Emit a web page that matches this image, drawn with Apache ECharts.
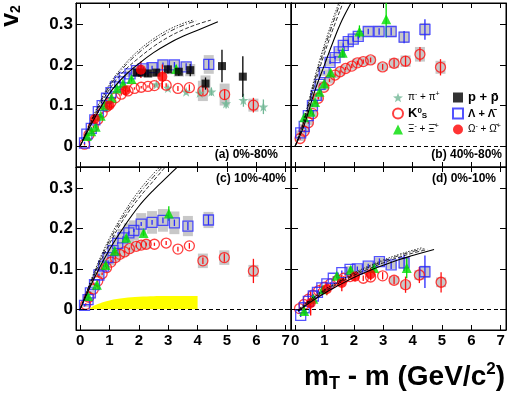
<!DOCTYPE html>
<html><head><meta charset="utf-8">
<script src="https://cdn.jsdelivr.net/npm/echarts@6/dist/echarts.min.js"></script>
<style>html,body{margin:0;padding:0;background:#fff}#c{width:511px;height:394px}</style>
</head><body><div id="c"></div>
<script>
// ---------- tick labels ----------
const xTicks = [0, 1, 2, 3, 4, 5, 6, 7];
const yTicks = [0, 0.1, 0.2, 0.3];
const panelLabels = ['(a) 0%-80%', '(b) 40%-80%', '(c) 10%-40%', '(d) 0%-10%'];

// ---------- data: [x, v2, statErr, sysErr] ----------
// panel (a) 0%-80%
const aPion = [[2.6,0.152,0.004,0],[2.99,0.143,0.005,0],[3.61,0.134,0.006,0],[4.07,0.131,0.008,0],[4.47,0.134,0.01,0],[4.97,0.105,0.012,0],[5.56,0.113,0.016,0],[6.24,0.097,0.018,0]];
const aK0s = [[0.15,0.005,0.003,0],[0.3,0.028,0.003,0],[0.45,0.048,0.003,0],[0.6,0.066,0.003,0],[0.75,0.082,0.003,0],[0.9,0.097,0.003,0],[1.05,0.108,0.003,0],[1.2,0.119,0.003,0],[1.4,0.128,0.003,0],[1.63,0.136,0.003,0],[1.85,0.142,0.003,0],[2.08,0.145,0.003,0],[2.31,0.147,0.003,0],[2.53,0.149,0.004,0],[2.93,0.15,0.005,0],[3.33,0.142,0.006,0],[3.72,0.144,0.008,0],[4.18,0.136,0.01,0.025],[4.92,0.127,0.013,0.027],[5.9,0.101,0.018,0.016]];
const aProton = [[1.93,0.181,0.008,0.01],[2.11,0.181,0.008,0.01],[2.31,0.179,0.008,0.01],[2.59,0.181,0.008,0.01],[2.99,0.189,0.01,0.012],[3.36,0.183,0.01,0.012],[3.75,0.187,0.015,0.015],[4.27,0.154,0.015,0.02],[4.83,0.197,0.04,0],[5.54,0.171,0.05,0]];
const aLambda = [[0.15,0.008,0.003,0],[0.23,0.03,0.003,0],[0.38,0.044,0.003,0],[0.5,0.065,0.003,0],[0.62,0.085,0.003,0],[0.75,0.1,0.003,0],[0.9,0.118,0.003,0],[1.05,0.132,0.003,0],[1.2,0.146,0.003,0],[1.35,0.158,0.003,0],[1.5,0.168,0.004,0],[1.7,0.178,0.004,0.008],[1.92,0.186,0.004,0.01],[2.15,0.19,0.005,0.01],[2.45,0.193,0.005,0.012],[2.82,0.2,0.006,0.012],[3.21,0.2,0.007,0.012],[3.61,0.195,0.009,0.012],[4.38,0.201,0.012,0.023]];
const aXi = [[0.23,0.025,0.004,0],[0.38,0.037,0.004,0],[0.53,0.048,0.004,0],[0.7,0.075,0.004,0],[0.84,0.1,0.004,0],[1.07,0.119,0.004,0],[1.26,0.142,0.005,0],[1.46,0.154,0.005,0],[1.75,0.165,0.006,0],[3.27,0.19,0.01,0]];
const aOmega = [[0.5,0.067,0.008,0],[1.0,0.1,0.008,0],[1.55,0.137,0.01,0],[2.07,0.188,0.02,0],[2.8,0.171,0.03,0]];
const aHydroSolid = [[0,0],[0.5,0.07],[1,0.13],[1.5,0.172],[2,0.203],[2.5,0.23],[3,0.252],[3.5,0.27],[4,0.285],[4.69,0.306]];
const aHydroDash = [[0,0],[0.5,0.076],[1,0.14],[1.5,0.185],[2,0.217],[2.5,0.245],[3,0.268],[3.5,0.286],[4,0.3],[4.45,0.31]];
const aHydroDashDot = [[0,0],[0.5,0.08],[1,0.147],[1.5,0.195],[2,0.23],[2.5,0.258],[3,0.28],[3.5,0.297],[3.95,0.308]];
const aHydroDot = [[0,0],[0.5,0.083],[1,0.152],[1.5,0.2],[2,0.236],[2.5,0.264],[3,0.286],[3.5,0.302],[3.85,0.31]];

// panel (b) 40%-80%
const bK0s = [[0.17,0.019,0.003,0.006],[0.31,0.037,0.003,0.006],[0.45,0.058,0.003,0.006],[0.6,0.08,0.003,0.007],[0.79,0.118,0.003,0.007],[0.98,0.145,0.003,0.008],[1.17,0.162,0.004,0.008],[1.36,0.175,0.004,0.008],[1.53,0.183,0.004,0.009],[1.72,0.191,0.004,0.009],[1.93,0.197,0.005,0.009],[2.12,0.205,0.005,0.01],[2.32,0.208,0.005,0.01],[2.57,0.212,0.006,0.01],[2.98,0.195,0.007,0.01],[3.37,0.204,0.01,0.012],[3.76,0.209,0.013,0.014],[4.25,0.226,0.018,0.018],[4.95,0.194,0.02,0.016]];
const bLambda = [[0.19,0.033,0.003,0.006],[0.31,0.049,0.003,0.006],[0.45,0.075,0.003,0.007],[0.59,0.1,0.003,0.007],[0.72,0.125,0.003,0.008],[0.85,0.152,0.003,0.008],[0.99,0.181,0.004,0.008],[1.19,0.206,0.004,0.009],[1.36,0.218,0.004,0.009],[1.5,0.232,0.004,0.009],[1.64,0.248,0.005,0.01],[1.81,0.257,0.005,0.01],[1.98,0.263,0.005,0.01],[2.15,0.27,0.006,0.01],[2.49,0.282,0.007,0.012],[2.86,0.282,0.008,0.014],[3.27,0.282,0.01,0.014],[3.71,0.268,0.015,0.014],[4.42,0.287,0.025,0.016]];
const bXi = [[0.31,0.071,0.005,0],[0.53,0.085,0.005,0],[0.68,0.109,0.005,0],[0.83,0.134,0.005,0],[0.99,0.154,0.006,0],[1.21,0.181,0.007,0],[1.62,0.23,0.01,0],[2.19,0.282,0.015,0],[3.1,0.312,0.045,0]];
const bHydroSolid = [[0,0],[0.3,0.05],[0.68,0.138],[1,0.2],[1.3,0.258],[1.6,0.31],[1.95,0.358]];
const bHydroDash = [[0,0],[0.3,0.058],[0.68,0.155],[1,0.228],[1.3,0.29],[1.66,0.358]];
const bHydroDashDot = [[0,0],[0.3,0.062],[0.68,0.165],[1,0.24],[1.3,0.305],[1.57,0.358]];
const bHydroDot = [[0,0],[0.3,0.066],[0.68,0.172],[1,0.25],[1.3,0.315],[1.52,0.358]];

// panel (c) 10%-40%
const cK0s = [[0.19,0.012,0.003,0],[0.3,0.03,0.003,0],[0.45,0.05,0.003,0],[0.6,0.07,0.003,0],[0.75,0.088,0.003,0],[0.9,0.103,0.003,0],[1.05,0.117,0.003,0.008],[1.2,0.128,0.003,0.01],[1.35,0.136,0.003,0.01],[1.51,0.142,0.003,0.01],[1.68,0.15,0.003,0.01],[1.91,0.156,0.003,0.01],[2.08,0.159,0.003,0.01],[2.25,0.161,0.004,0.01],[2.53,0.161,0.004,0],[2.93,0.164,0.005,0],[3.33,0.149,0.006,0],[3.72,0.157,0.007,0],[4.18,0.12,0.008,0.018],[4.91,0.128,0.01,0.018],[5.9,0.095,0.03,0.015]];
const cLambda = [[0.15,0.01,0.003,0.004],[0.27,0.024,0.003,0.005],[0.35,0.041,0.003,0.005],[0.49,0.061,0.003,0.006],[0.64,0.085,0.003,0.007],[0.8,0.107,0.003,0.008],[0.95,0.128,0.003,0.012],[1.12,0.145,0.003,0.016],[1.28,0.163,0.003,0.02],[1.46,0.177,0.004,0.022],[1.66,0.189,0.004,0.024],[1.83,0.195,0.004,0.025],[2.08,0.211,0.005,0.027],[2.45,0.215,0.006,0.028],[2.82,0.22,0.007,0.028],[3.21,0.214,0.008,0.028],[3.67,0.206,0.01,0.025],[4.37,0.221,0.012,0.02]];
const cXi = [[0.27,0.033,0.004,0],[0.57,0.061,0.004,0],[0.87,0.11,0.005,0],[1.18,0.145,0.005,0],[1.57,0.177,0.006,0],[2.16,0.189,0.008,0],[3.02,0.237,0.018,0]];
const cBand = [[0.3,0],[0.5,0.01],[1,0.022],[1.5,0.028],[2,0.031],[3,0.033],[4,0.033]];
const cHydroSolid = [[0,0],[0.5,0.08],[1,0.148],[1.5,0.205],[2,0.255],[2.5,0.295],[3,0.33],[3.4,0.358]];
const cHydroDash = [[0,0],[0.5,0.088],[1,0.162],[1.5,0.225],[2,0.275],[2.5,0.318],[2.97,0.358]];
const cHydroDashDot = [[0,0],[0.5,0.092],[1,0.17],[1.5,0.233],[2,0.285],[2.5,0.328],[2.87,0.358]];
const cHydroDot = [[0,0],[0.5,0.096],[1,0.176],[1.5,0.24],[2,0.293],[2.5,0.336],[2.8,0.358]];

// panel (d) 0%-10%
const dK0s = [[0.15,0.002,0.004,0],[0.3,0.012,0.004,0],[0.45,0.025,0.004,0],[0.6,0.035,0.004,0],[0.8,0.046,0.004,0],[1.0,0.055,0.004,0],[1.2,0.063,0.004,0],[1.45,0.072,0.005,0],[1.65,0.077,0.005,0],[1.87,0.081,0.006,0],[2.32,0.077,0.007,0],[2.57,0.08,0.008,0],[2.98,0.083,0.009,0],[3.37,0.072,0.01,0.01],[3.76,0.061,0.02,0.01],[4.23,0.085,0.02,0.012],[4.97,0.067,0.025,0.012]];
const dLambda = [[0.19,-0.015,0.004,0],[0.31,0.004,0.004,0],[0.45,0.02,0.004,0],[0.62,0.033,0.004,0],[0.76,0.042,0.004,0],[0.91,0.053,0.004,0],[1.08,0.063,0.004,0],[1.3,0.077,0.005,0],[1.59,0.091,0.005,0],[1.87,0.099,0.005,0.008],[2.12,0.1,0.006,0.01],[2.49,0.107,0.006,0.01],[2.87,0.118,0.008,0.01],[3.27,0.11,0.01,0.01],[3.71,0.115,0.02,0.015],[4.42,0.093,0.04,0.015]];
const dXi = [[0.31,-0.004,0.01,0],[0.62,0.026,0.006,0],[0.95,0.05,0.006,0],[1.42,0.083,0.006,0],[1.89,0.098,0.008,0],[2.69,0.102,0.01,0],[3.8,0.102,0.025,0]];
const dOmega = [[0.53,0.015,0.03,0],[1.08,0.05,0.015,0],[1.59,0.065,0.02,0],[2.04,0.081,0.012,0],[2.57,0.087,0.015,0]];
const dHydroSolid = [[0.1,-0.005],[0.5,0.017],[1,0.04],[1.5,0.06],[2,0.079],[2.5,0.095],[3,0.109],[3.5,0.122],[4,0.133],[4.73,0.148]];
const dHydroDash = [[0.1,-0.004],[0.5,0.02],[1,0.044],[1.5,0.065],[2,0.084],[2.5,0.1],[3,0.115],[3.5,0.128],[4,0.139],[4.5,0.148]];
const dHydroDashDot = [[0.1,-0.003],[0.5,0.022],[1,0.047],[1.5,0.068],[2,0.087],[2.5,0.104],[3,0.119],[3.5,0.132],[4,0.143],[4.4,0.15]];
const dHydroDot = [[0.1,-0.002],[0.5,0.024],[1,0.049],[1.5,0.07],[2,0.09],[2.5,0.107],[3,0.122],[3.5,0.135],[4,0.146],[4.3,0.152]];

// ---------- assemble ----------
const panels = [
  {pi:aPion, K0s:aK0s, p:aProton, Lam:aLambda, Xi:aXi, Omega:aOmega, hydro:[aHydroSolid,aHydroDash,aHydroDashDot,aHydroDot]},
  {K0s:bK0s, Lam:bLambda, Xi:bXi, hydro:[bHydroSolid,bHydroDash,bHydroDashDot,bHydroDot]},
  {K0s:cK0s, Lam:cLambda, Xi:cXi, band:cBand, hydro:[cHydroSolid,cHydroDash,cHydroDashDot,cHydroDot]},
  {K0s:dK0s, Lam:dLambda, Xi:dXi, Omega:dOmega, hydro:[dHydroSolid,dHydroDash,dHydroDashDot,dHydroDot]}
];

const FONT = 'Liberation Sans, Arial, DejaVu Sans, sans-serif';
const XMIN = -0.14, XMAX = 7.18, YMIN = -0.051, YMAX = 0.352;
const BOX_HW = 0.17;
const GRAY = '#c8c8c8';
const STAR = 'path://M0,-10L2.35,-3.24L9.51,-3.09L3.8,1.24L5.88,8.09L0,4.2L-5.88,8.09L-3.8,1.24L-9.51,-3.09L-2.35,-3.24Z';
const species = {
  pi:    {color:'#72b896', symbol:STAR, size:10, open:false},
  K0s:   {color:'#ff1010', symbol:'circle', size:10, open:true},
  Lam:   {color:'#2828ff', symbol:'rect', size:10, open:true},
  p:     {color:'#000000', symbol:'rect', size:8, open:false},
  Xi:    {color:'#00dd00', symbol:'triangle', size:10, open:false},
  Omega: {color:'#ff0000', symbol:'circle', size:10, open:false}
};
const drawOrder = ['pi','K0s','Lam','Xi','p','Omega'];
const hydroStyles = [
  {type:'solid', width:1.1},
  {type:[4,2], width:0.8},
  {type:[5,2,1,2], width:0.8},
  {type:[1.5,1.5], width:0.8}
];

const grids = [
  {left:76, top:3, width:215, height:164},
  {left:291, top:3, width:215, height:164},
  {left:76, top:167, width:215, height:163},
  {left:291, top:167, width:215, height:163}
].map(g => Object.assign(g, {show:true, borderColor:'#000', borderWidth:1, containLabel:false}));

const xAxes = [], yAxes = [];
for (let i = 0; i < 4; i++) {
  const base = {gridIndex:i, type:'value', min:XMIN, max:XMAX, splitLine:{show:false},
    axisLine:{show:true, onZero:false, lineStyle:{color:'#000', width:1}}};
  xAxes.push(Object.assign({}, base, {position:'bottom',
    axisTick:{show:true, inside:true, length:5, customValues:xTicks, lineStyle:{color:'#000'}},
    axisLabel:{show:i>=2, customValues:xTicks, margin:3, fontSize:15, fontWeight:'bold', fontFamily:FONT, color:'#000'}}));
  xAxes.push(Object.assign({}, base, {position:'top',
    axisTick:{show:true, inside:true, length:5, customValues:xTicks, lineStyle:{color:'#000'}},
    axisLabel:{show:false}}));
  const ybase = {gridIndex:i, type:'value', min:YMIN, max:YMAX, splitLine:{show:false},
    axisLine:{show:true, onZero:false, lineStyle:{color:'#000', width:1}}};
  yAxes.push(Object.assign({}, ybase, {position:'left',
    axisTick:{show:true, inside:true, length:7, customValues:yTicks, lineStyle:{color:'#000'}},
    axisLabel:{show:i%2===0, customValues:yTicks, margin:3, fontSize:17, fontWeight:'bold', fontFamily:FONT, color:'#000'}}));
  yAxes.push(Object.assign({}, ybase, {position:'right',
    axisTick:{show:true, inside:true, length:6, customValues:yTicks, lineStyle:{color:'#000'}},
    axisLabel:{show:false}}));
}

const series = [];
panels.forEach((pd, i) => {
  const ax = {xAxisIndex:2*i, yAxisIndex:2*i};
  // systematic boxes
  const boxes = [];
  drawOrder.forEach(k => { (pd[k]||[]).forEach(d => { if (d[3] > 0) boxes.push([d[0], d[1]-d[3], d[1]+d[3]]); }); });
  series.push(Object.assign({type:'custom', silent:true, clip:true, encode:{x:0, y:[1,2]}, data:boxes,
    renderItem:(params, api) => {
      const a = api.coord([api.value(0)-BOX_HW, api.value(2)]);
      const b = api.coord([api.value(0)+BOX_HW, api.value(1)]);
      return {type:'rect', shape:{x:a[0], y:a[1], width:b[0]-a[0], height:b[1]-a[1]}, style:{fill:GRAY}};
    }}, ax));
  // yellow band
  if (pd.band) {
    series.push(Object.assign({type:'line', data:pd.band, smooth:0.4, showSymbol:false, silent:true,
      lineStyle:{width:0}, areaStyle:{color:'#ffff00', opacity:1}}, ax));
  }
  // hydro curves
  pd.hydro.forEach((h, j) => {
    series.push(Object.assign({type:'line', data:h, smooth:0.4, showSymbol:false, silent:true, clip:true,
      lineStyle:{color:'#000', width:hydroStyles[j].width, type:hydroStyles[j].type},
      markLine: j===0 ? {silent:true, symbol:'none', label:{show:false},
        lineStyle:{color:'#000', width:1, type:[4,3]}, data:[{yAxis:0}]} : undefined}, ax));
  });
  // error bars and markers
  drawOrder.forEach(k => {
    const arr = pd[k]; if (!arr) return;
    const sp = species[k];
    series.push(Object.assign({type:'custom', silent:true, clip:true, encode:{x:0, y:[1,2]},
      data:arr.map(d => [d[0], d[1]-d[2], d[1]+d[2]]),
      renderItem:(params, api) => {
        const p1 = api.coord([api.value(0), api.value(1)]);
        const p2 = api.coord([api.value(0), api.value(2)]);
        return {type:'line', shape:{x1:p1[0], y1:p1[1], x2:p2[0], y2:p2[1]}, style:{stroke:sp.color, lineWidth:1.3}};
      }}, ax));
  });
  drawOrder.forEach(k => {
    const arr = pd[k]; if (!arr) return;
    const sp = species[k];
    series.push(Object.assign({type:'scatter', name:k, symbol:sp.symbol, symbolSize:sp.size,
      data:arr.map(d => [d[0], d[1]]), clip:true,
      itemStyle: sp.open ? {color:'rgba(0,0,0,0)', borderColor:sp.color, borderWidth:1.3}
                         : {color:sp.color, borderWidth:0}}, ax));
  });
});

const legendRich = {
  n:{fontSize:10, fontWeight:'normal', fontFamily:FONT, color:'#000', lineHeight:13},
  sup:{fontSize:7, fontFamily:FONT, color:'#000', verticalAlign:'top', lineHeight:8},
  b:{fontSize:13, fontWeight:'bold', fontFamily:FONT, color:'#000', lineHeight:13},
  bsup:{fontSize:8, fontWeight:'bold', fontFamily:FONT, color:'#000', verticalAlign:'top', lineHeight:8},
  bsub:{fontSize:8, fontWeight:'bold', fontFamily:FONT, color:'#000', verticalAlign:'bottom', lineHeight:8},
  m:{fontSize:11, fontWeight:'bold', fontFamily:FONT, color:'#000', lineHeight:13},
  ms:{fontSize:7, fontWeight:'bold', fontFamily:FONT, color:'#000', verticalAlign:'top', lineHeight:8}
};
const legendText = {
  pi:'{n|π}{sup|-}{n| + π}{sup|+}',
  K0s:'{b|K}{bsup|0}{bsub|S}',
  Xi:'{n|Ξ}{sup|-}{n| + Ξ̄}{sup|+}',
  p:'{b|p + p̄}',
  Lam:'{m|Λ + Λ̄}',
  Omega:'{n|Ω}{sup|-}{n| + Ω̄}{sup|+}'
};
const legendBase = {orient:'vertical', top:91, itemWidth:10, itemHeight:10, itemGap:3, padding:0,
  selectedMode:false, formatter:name => legendText[name],
  textStyle:{fontFamily:FONT, fontSize:11, color:'#000', lineHeight:13, rich:legendRich}};

const titles = [
  {text:panelLabels[0], right:233, top:149},
  {text:panelLabels[1], right:9, top:149},
  {text:panelLabels[2], right:225, top:173},
  {text:panelLabels[3], right:15, top:173}
].map(t => Object.assign(t, {padding:0, textStyle:{fontFamily:FONT, fontSize:12, fontWeight:'bold', color:'#000'}}));
titles.push({text:'{b|m}{sub|T}{b| - m (GeV/c}{sup|2}{b|)}', right:6, top:361, padding:0,
  textStyle:{rich:{
    b:{fontFamily:FONT, fontSize:28, fontWeight:'bold', color:'#000', lineHeight:32},
    sub:{fontFamily:FONT, fontSize:18, fontWeight:'bold', color:'#000', verticalAlign:'bottom', lineHeight:17},
    sup:{fontFamily:FONT, fontSize:17, fontWeight:'bold', color:'#000', verticalAlign:'top', lineHeight:16}
  }}});

const option = {
  animation:false,
  backgroundColor:'#fff',
  grid:grids, xAxis:xAxes, yAxis:yAxes,
  title:titles,
  legend:[
    Object.assign({}, legendBase, {left:392, data:['pi','K0s','Xi']}),
    Object.assign({}, legendBase, {left:452, data:['p','Lam','Omega']})
  ],
  graphic:[{type:'group', x:11, y:16, rotation:Math.PI/2, silent:true, children:[
    {type:'text', x:0, y:0,
     style:{text:'{v|v}{s|2}', align:'center', verticalAlign:'middle',
       rich:{v:{fontFamily:FONT, fontSize:25, fontWeight:'bold', fill:'#000', lineHeight:24},
             s:{fontFamily:FONT, fontSize:14, fontWeight:'bold', fill:'#000', verticalAlign:'bottom', lineHeight:14}}}}]}],
  series:series
};
const chart = echarts.init(document.getElementById('c'), null, {renderer:'canvas'});
chart.setOption(option);
</script></body></html>
